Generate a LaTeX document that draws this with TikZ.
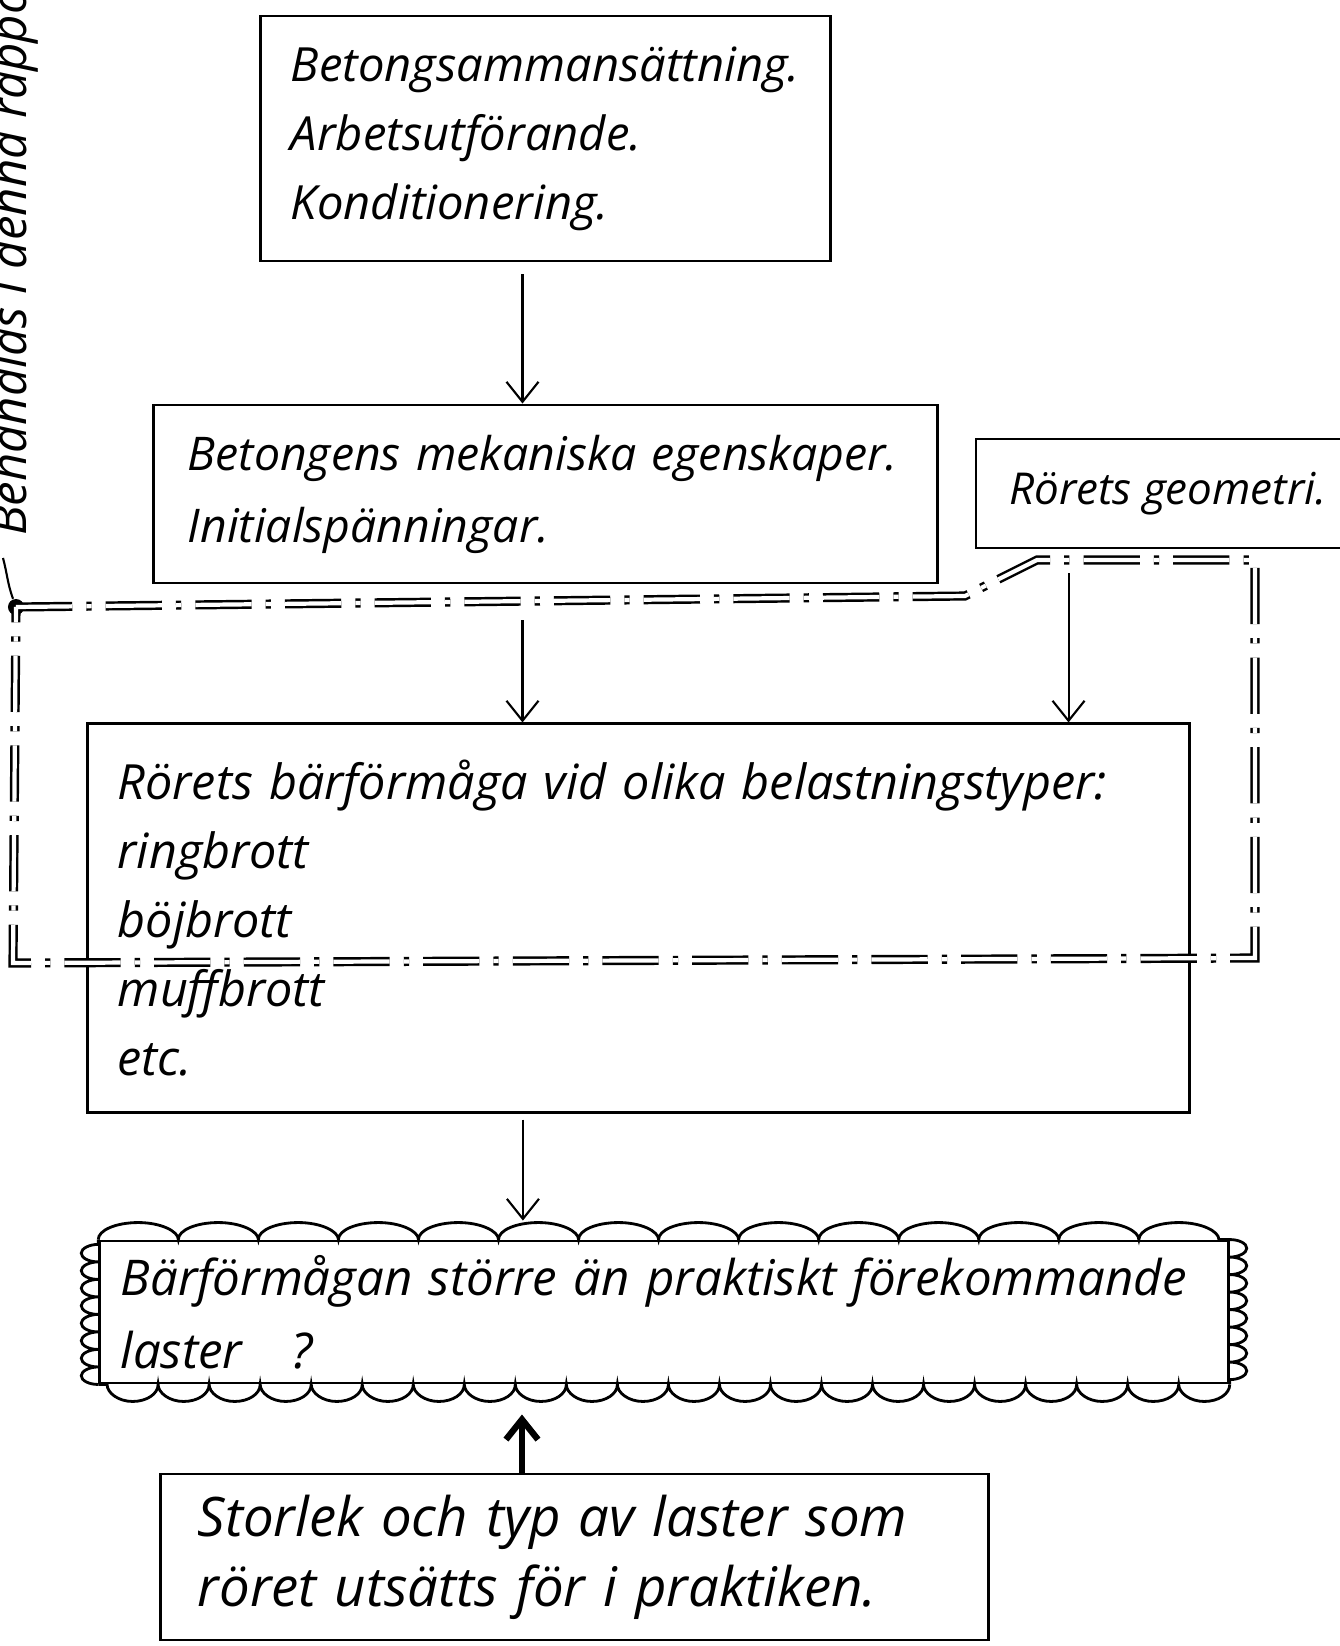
\documentclass[tikz,border=0pt]{standalone}
\usepackage{fontspec}
\setmainfont{Open Sans}
\usetikzlibrary{arrows.meta}
\usetikzlibrary{decorations.pathmorphing}
\newcommand{\hand}[2]{\fontsize{#1}{#2}\selectfont\itshape}
\tikzstyle{StepBox}=[rectangle, draw=black, thick, align=left, inner ysep=0pt]
\tikzstyle{FlowEdge}=[->, semithick]
\tikzstyle{LoadEdge}=[FlowEdge, line width=1.8pt]
\tikzstyle{ScopeLine}=[double, double distance=1.2pt, line width=0.7pt, dash pattern=on 16pt off 4pt on 1.5pt off 4pt]
\tikzstyle{ScallopEdge}=[thick, decorate, decoration={bumps, amplitude=0.17cm}]
\tikzset{>={Straight Barb[length=2mm, width=3.2mm]}}
\begin{document}
\begin{tikzpicture}[x=0.01cm, y=-0.01cm]
\useasboundingbox (0,0) rectangle (1339,1646);

% boxes
\node[StepBox, minimum width=5.69cm, minimum height=2.45cm, text width=5.09cm, inner xsep=0.3cm, font={\hand{13.4}{19.6}}](Setup) at (545.5,138.5) {Betongsammansättning.\\Arbetsutförande.\\Konditionering.};
\node[StepBox, minimum width=7.83cm, minimum height=1.78cm, text width=7.15cm, inner xsep=0.34cm, font={\hand{13.2}{20.5}}](Props) at (545.5,494) {Betongens mekaniska egenskaper.\\Initialspänningar.};
\node[StepBox, minimum width=3.84cm, minimum height=1.09cm, font={\hand{12.5}{20}}](Geometry) at (1168,493.5) {Rörets geometri.};
\node[StepBox, minimum width=11.01cm, minimum height=3.88cm, text width=10.41cm, inner xsep=0.3cm, font={\hand{13.8}{19.6}}](Capacity) at (638.5,918) {Rörets bärförmåga vid olika belastningstyper:\\ringbrott\\böjbrott\\muffbrott\\etc.};
\node[StepBox, minimum width=11.28cm, minimum height=1.42cm, text width=10.86cm, inner xsep=0.21cm, font={\hand{14}{20.8}}](Verdict) at (664,1312) {Bärförmågan större än praktiskt förekommande\\laster\quad ?};
\node[StepBox, minimum width=8.27cm, minimum height=1.66cm, text width=7.53cm, inner xsep=0.37cm, font={\hand{15.5}{20}}](Loads) at (574.5,1557) {Storlek och typ av laster som\\röret utsätts för i praktiken.};

% scalloped border
\draw[ScallopEdge, decoration={segment length=1.6cm}] (Verdict.north west) -- (Verdict.north east);
\draw[ScallopEdge, decoration={segment length=0.35cm}] (Verdict.north east) -- (Verdict.south east);
\draw[ScallopEdge, decoration={segment length=1.02cm}] (Verdict.south east) -- (Verdict.south west);
\draw[ScallopEdge, decoration={segment length=0.35cm}] (Verdict.south west) -- (Verdict.north west);

% scope of the report
\node[rotate=90, anchor=base west, font={\hand{14}{16}}](SideNote) at (27,548) {Behandlas i denna rapport};
\node[circle, fill=black, inner sep=0pt, minimum size=0.16cm](Dot) at (16,607) {};
\coordinate (NoteEnd) at (3,558);
\draw[semithick] (NoteEnd) to[out=-75, in=110] (Dot);
\draw[ScopeLine] (Dot.center) -- (965,596) -- (1037,560) -- (1255,560) -- (1255,958) -- (13,963) -- (Dot.center);

% arrows
\draw[FlowEdge, shorten <=0.12cm]([xshift=-0.23cm]Setup.south) -- ([xshift=-0.23cm]Props.north);
\draw[FlowEdge, shorten <=0.36cm]([xshift=-0.23cm]Props.south) -- ([xshift=-0.23cm]Props.south |- Capacity.north);
\draw[FlowEdge, shorten <=0.24cm]([xshift=0.94cm]Geometry.south west) -- ([xshift=0.94cm]Geometry.south west |- Capacity.north);
\draw[FlowEdge, shorten <=0.06cm, shorten >=0.19cm]([xshift=-1.155cm]Capacity.south) -- ([xshift=-1.155cm]Capacity.south |- Verdict.north);
\draw[LoadEdge, shorten >=0.3cm]([xshift=-0.525cm]Loads.north) -- ([xshift=-0.525cm]Loads.north |- Verdict.south);
\end{tikzpicture}
\end{document}
